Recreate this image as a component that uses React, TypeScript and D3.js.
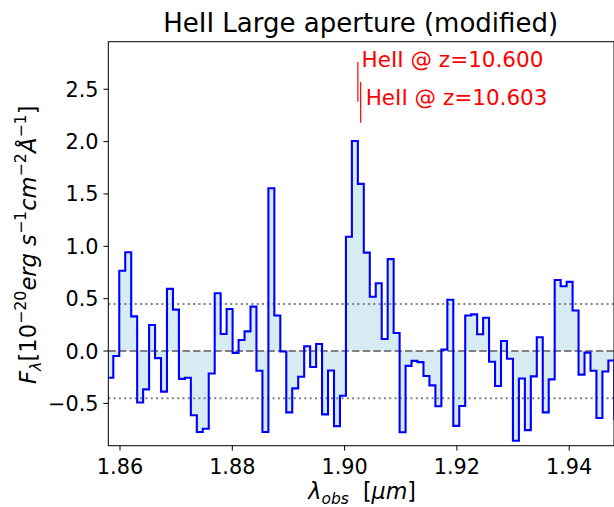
import React from "react";
import * as d3 from "d3";

// ---- data ----
const binStart = 1.858807 - 0.0010623; // left edge of first (partially visible) bin, µm
const binWidth = 0.0010623; // µm
const fluxValues = [
  -0.255, -0.048, 0.766, 0.943, 0.331, -0.492, -0.366, 0.248, -0.068, -0.388,
  0.594, 0.395, -0.266, -0.255, -0.613, -0.773, -0.742, -0.215, 0.552, 0.162,
  0.402, -0.018, 0.105, 0.188, 0.424, -0.188, -0.773, 1.554, 0.34, -0.005,
  -0.586, -0.357, -0.245, 0.045, -0.153, 0.067, -0.605, -0.186, -0.717, -0.427,
  1.092, 2.006, 1.596, 0.94, 0.519, 0.648, 0.115, 0.878, 0.172, -0.775,
  -0.142, -0.094, -0.106, -0.238, -0.328, -0.527, 0.013, 0.49, -0.715, -0.525,
  0.34, 0.35, 0.16, 0.318, -0.102, -0.334, 0.096, -0.073, -0.857, -0.262,
  -0.755, -0.242, 0.131, -0.586, -0.271, 0.678, 0.618, 0.66, 0.387, -0.225,
  -0.015, -0.188, -0.64, -0.195, -0.09, -0.65,
];
const noiseLevel = 0.45;
const xTicks = [1.86, 1.88, 1.9, 1.92, 1.94];
const yTicks = [-0.5, 0.0, 0.5, 1.0, 1.5, 2.0, 2.5];
const lineLabels = ["HeII @ z=10.600", "HeII @ z=10.603"];
const lineWaves = [1.90237, 1.90286];
const lineYRanges = [
  [2.38, 2.76],
  [2.18, 2.57],
];
const labelPos = [
  [1.90303, 2.71],
  [1.90376, 2.35],
];
const xDomain = [1.857916, 1.94798];
const yDomain = [-0.904, 2.954];

const W = 614;
const H = 507;
const L = 108.3;
const R = 614;
const T = 41.7;
const B = 445.7;

const FONT = "DejaVu Sans, Liberation Sans, sans-serif";

export default function App() {
  const x = d3.scaleLinear().domain(xDomain).range([L, R]);
  const y = d3.scaleLinear().domain(yDomain).range([B, T]);

  const pts: [number, number][] = fluxValues.map((v, i) => [binStart + i * binWidth, v]);
  pts.push([binStart + fluxValues.length * binWidth, fluxValues[fluxValues.length - 1]]);

  const area = d3
    .area<[number, number]>()
    .x((d) => x(d[0]))
    .y0(y(0))
    .y1((d) => y(d[1]))
    .curve(d3.curveStepAfter);
  const line = d3
    .line<[number, number]>()
    .x((d) => x(d[0]))
    .y((d) => y(d[1]))
    .curve(d3.curveStepAfter);

  const fmtY = (v: number) => (v < 0 ? "\u2212" : "") + Math.abs(v).toFixed(1);

  return (
    <svg
      width={W}
      height={H}
      style={{ position: "fixed", left: 0, top: 0, background: "#fff" }}
      fontFamily={FONT}
    >
      <defs>
        <clipPath id="plotclip">
          <rect x={L} y={T} width={R - L} height={B - T} />
        </clipPath>
      </defs>
      <rect x={0} y={0} width={W} height={H} fill="#fff" />
      <g clipPath="url(#plotclip)">
        <path d={area(pts) || ""} fill="lightblue" fillOpacity={0.5} />
        <line x1={L} x2={R} y1={y(0)} y2={y(0)} stroke="gray" strokeWidth={2} strokeDasharray="7.4,3.2" />
        <line x1={L} x2={R} y1={y(noiseLevel)} y2={y(noiseLevel)} stroke="gray" strokeWidth={2} strokeDasharray="2,3.3" />
        <line x1={L} x2={R} y1={y(-noiseLevel)} y2={y(-noiseLevel)} stroke="gray" strokeWidth={2} strokeDasharray="2,3.3" />
        <path d={line(pts) || ""} fill="none" stroke="blue" strokeWidth={2.1} />
        {lineWaves.map((w, i) => (
          <line
            key={i}
            x1={x(w)}
            x2={x(w)}
            y1={y(lineYRanges[i][0])}
            y2={y(lineYRanges[i][1])}
            stroke="red"
            strokeWidth={1.2}
          />
        ))}
      </g>
      {lineLabels.map((t, i) => (
        <text key={i} x={x(labelPos[i][0])} y={y(labelPos[i][1])} fill="red" fontSize={21.5}>
          {t}
        </text>
      ))}
      {/* frame */}
      <rect x={L} y={T} width={R - L} height={B - T} fill="none" stroke="#000" strokeWidth={1} />
      {/* x ticks */}
      {xTicks.map((t) => (
        <g key={t}>
          <line x1={x(t)} x2={x(t)} y1={B} y2={B + 4.9} stroke="#000" strokeWidth={1} />
          <text x={x(t)} y={474} textAnchor="middle" fontSize={20.8} fill="#000">
            {t.toFixed(2)}
          </text>
        </g>
      ))}
      {/* y ticks */}
      {yTicks.map((t) => (
        <g key={t}>
          <line x1={L - 4.9} x2={L} y1={y(t)} y2={y(t)} stroke="#000" strokeWidth={1} />
          <text x={L - 9.8} y={y(t)} dy="0.36em" textAnchor="end" fontSize={20.8} fill="#000">
            {fmtY(t)}
          </text>
        </g>
      ))}
      {/* title */}
      <text x={(L + R) / 2 - 0.5} y={32} textAnchor="middle" fontSize={26} fill="#000">
        HeII Large aperture (modified)
      </text>
      {/* x label */}
      <text x={(L + R) / 2 + 1} y={499} textAnchor="middle" fontSize={22.2} fill="#000">
        <tspan fontStyle="italic">λ</tspan>
        <tspan fontStyle="italic" fontSize={15.5} dy={4.5}>obs</tspan>
        <tspan dy={-4.5}>{"\u00a0\u00a0["}</tspan>
        <tspan fontStyle="italic">μm</tspan>
        <tspan>]</tspan>
      </text>
      {/* y label */}
      <text transform={`translate(36,${(T + B) / 2 + 1}) rotate(-90)`} textAnchor="middle" fontSize={22.6} fill="#000">
        <tspan fontStyle="italic">F</tspan>
        <tspan fontStyle="italic" fontSize={15.8} dy={4.5}>λ</tspan>
        <tspan dy={-4.5}>[10</tspan>
        <tspan fontSize={15.8} dy={-10}>−20</tspan>
        <tspan fontStyle="italic" dy={10}>erg</tspan>
        <tspan fontStyle="italic">{"\u00a0s"}</tspan>
        <tspan fontSize={15.8} dy={-10}>−1</tspan>
        <tspan fontStyle="italic" dy={10}>cm</tspan>
        <tspan fontSize={15.8} dy={-10}>−2</tspan>
        <tspan fontStyle="italic" dy={10}>Å</tspan>
        <tspan fontSize={15.8} dy={-10}>−1</tspan>
        <tspan dy={10}>]</tspan>
      </text>
    </svg>
  );
}
